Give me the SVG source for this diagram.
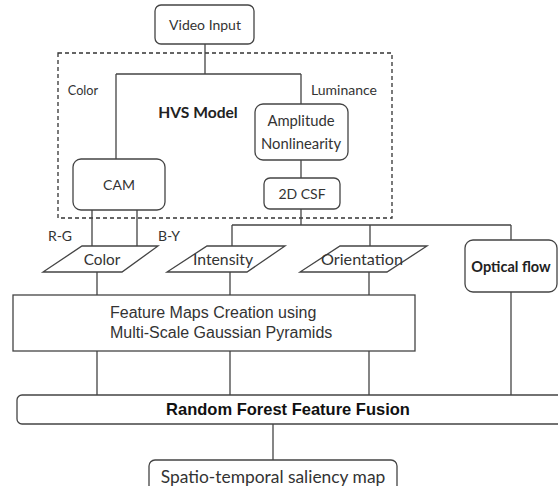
<svg xmlns="http://www.w3.org/2000/svg" width="558" height="486" viewBox="0 0 558 486">
<style>
.box{fill:#fff;stroke:#444;stroke-width:1.3}
.ln{fill:none;stroke:#444;stroke-width:1.3}
.t{font-family:Lato,"Open Sans",sans-serif;font-size:14px;fill:#333;text-anchor:middle}
.tb{font-family:Lato,"Open Sans",sans-serif;font-size:14px;font-weight:bold;fill:#222;text-anchor:middle}
.ta{font-family:"Liberation Sans",Arial,sans-serif;font-size:16px;fill:#333}
.tab{font-family:"Liberation Sans",Arial,sans-serif;font-size:16.5px;font-weight:bold;fill:#111;text-anchor:middle}
</style>
<rect width="558" height="486" fill="#fff"/>
<g id="hvs-model">
<rect x="58" y="53" width="334" height="165" fill="none" stroke="#333" stroke-width="1.3" stroke-dasharray="4,3"/>
<text class="tb" x="198" y="118" style="font-size:15.6px">HVS Model</text>
<text class="t" x="83" y="95" style="font-size:12.7px">Color</text>
<text class="t" x="344" y="95">Luminance</text>
</g>
<g id="connectors">
<path class="ln" d="M205,44V74M116,74H301M116,74V159M301,74V104M301,160V178M301,209V225M232,225H511M232,225V246M370,225V246M511,225V240"/>
<path class="ln" d="M92,210V246M137,210V246"/>
<path class="ln" d="M97,272V295M230,272V295M369,272V295"/>
<path class="ln" d="M97,351V395M230,351V395M369,351V395"/>
<path class="ln" d="M511,292V395" stroke="#222" stroke-width="2"/>
<path class="ln" d="M273,424V460"/>
<text class="t" x="60" y="241">R-G</text>
<text class="t" x="169" y="241">B-Y</text>
</g>
<g id="video-input">
<rect class="box" x="155" y="5" width="99" height="39" rx="6"/>
<text class="t" x="205" y="30">Video Input</text>
</g>
<g id="amplitude">
<rect class="box" x="255" y="104" width="93" height="56" rx="8"/>
<text class="t" x="301" y="126" style="font-size:14.8px">Amplitude</text>
<text class="t" x="301" y="149" style="font-size:14.8px">Nonlinearity</text>
</g>
<g id="csf">
<rect class="box" x="264" y="178" width="76" height="31" rx="6"/>
<text class="t" x="302" y="199">2D CSF</text>
</g>
<g id="cam">
<rect class="box" x="73" y="159" width="92" height="51" rx="8"/>
<text class="t" x="119" y="190">CAM</text>
</g>
<g id="color">
<polygon class="box" points="82,246 158,246 122,272 43,272"/>
<text class="t" x="102" y="265" style="font-size:15.3px">Color</text>
</g>
<g id="intensity">
<polygon class="box" points="207,246 285,246 247,272 167,272"/>
<text class="t" x="223" y="265" style="font-size:15.8px">Intensity</text>
</g>
<g id="orientation">
<polygon class="box" points="340,246 427,246 387,272 300,272"/>
<text class="t" x="362" y="265" style="font-size:16.2px">Orientation</text>
</g>
<g id="optical-flow">
<rect class="box" x="465" y="240" width="92" height="52" rx="8"/>
<text class="tb" x="511" y="272" style="font-size:14.5px">Optical flow</text>
</g>
<g id="feature-maps">
<rect class="box" x="13" y="295" width="402" height="56"/>
<text class="ta" x="110" y="318">Feature Maps Creation using</text>
<text class="ta" x="110" y="338">Multi-Scale Gaussian Pyramids</text>
</g>
<g id="random-forest">
<rect class="box" x="17" y="395" width="560" height="29" rx="5"/>
<text class="tab" x="288" y="415">Random Forest Feature Fusion</text>
</g>
<g id="saliency">
<rect class="box" x="149" y="460" width="248" height="40" rx="6"/>
<text class="t" x="273" y="483" style="font-size:17.4px">Spatio-temporal saliency map</text>
</g>
</svg>
